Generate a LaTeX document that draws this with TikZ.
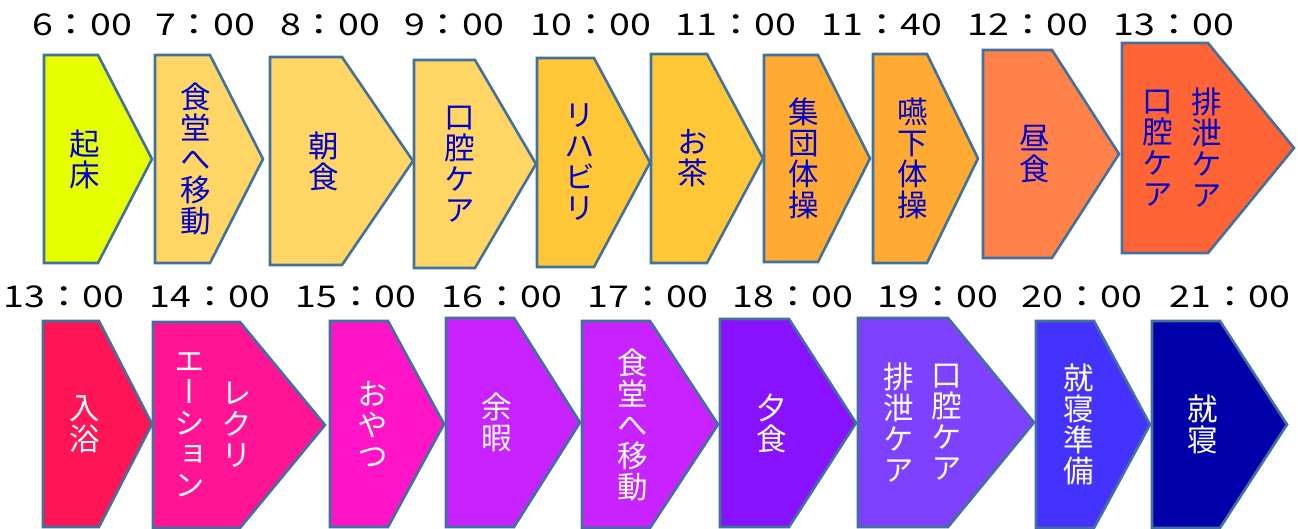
\documentclass[tikz,border=0pt]{standalone}
\usepackage{fontspec}
\setmainfont{Noto Sans CJK JP}
\newfontfamily\tatefont[RawFeature=+vert]{Noto Sans CJK JP}
\newfontfamily\timefont[FakeStretch=1.25]{Noto Sans CJK JP}
\definecolor{edgeblue}{RGB}{65,113,156}
\definecolor{inkblue}{RGB}{0,0,204}
\definecolor{lime}{RGB}{230,255,0}
\definecolor{cream}{RGB}{255,213,102}
\definecolor{amber}{RGB}{255,198,55}
\definecolor{tangerine}{RGB}{255,170,50}
\definecolor{salmon}{RGB}{255,130,75}
\definecolor{coral}{RGB}{255,100,55}
\definecolor{rose}{RGB}{255,20,85}
\definecolor{deeppink}{RGB}{255,20,150}
\definecolor{magenta2}{RGB}{255,20,200}
\definecolor{orchid}{RGB}{200,35,255}
\definecolor{violet2}{RGB}{136,17,255}
\definecolor{lavender}{RGB}{125,65,255}
\definecolor{indigo2}{RGB}{68,51,255}
\definecolor{navy2}{RGB}{0,0,170}
\tikzset{
  box/.style={draw=edgeblue, line width=2.6pt, line join=miter},
  lbl/.style={font=\tatefont\fontsize{30.5}{31}\selectfont, align=center, inner sep=0pt},
  uplbl/.style={lbl, text=inkblue},
  lowlbl/.style={lbl, text=white},
  clock/.style={font=\timefont\fontsize{30}{30}\selectfont, inner sep=0pt, anchor=base}
}
% pentagon arrow: name, left, top, shoulder, tip, bottom, fill
\newcommand{\pentbox}[7]{%
  \draw[box, fill=#7] (#2,#3) -- (#4,#3) -- (#5,{(#3+#6)/2}) -- (#4,#6) -- (#2,#6) -- cycle;
  \coordinate (#1) at ({#2/2+#4/4+#5/4},{(#3+#6)/2});}

\begin{document}
\begin{tikzpicture}[x=1pt, y=-1pt]
  \useasboundingbox (0,0) rectangle (1298,529);

  % morning row
  \pentbox{wake}{44}{55}{98}{152}{263}{lime}
  \pentbox{move}{155}{55}{210}{263}{263}{cream}
  \pentbox{bfast}{270}{57}{342}{413}{265}{cream}
  \pentbox{oral}{414}{60}{475}{536}{268}{cream}
  \pentbox{rehab}{537}{58}{594}{650}{267}{amber}
  \pentbox{tea}{651}{54}{707}{763}{263}{amber}
  \pentbox{gym}{764}{55}{818}{870}{262}{tangerine}
  \pentbox{swallow}{873}{54}{927}{978}{263}{tangerine}
  \pentbox{lunch}{983}{50}{1052}{1119}{258}{salmon}
  \pentbox{care}{1122}{43}{1208}{1294}{253}{coral}

  \node[uplbl] (t-wake) at (wake) {起\\床};
  \node[uplbl] (t-move) at (move) {食\\堂\\へ\\移\\動};
  \node[uplbl] (t-bfast) at (bfast) {朝\\食};
  \node[uplbl] (t-oral) at (oral) {口\\腔\\ケ\\ア};
  \node[uplbl] (t-rehab) at (rehab) {リ\\ハ\\ビ\\リ};
  \node[uplbl] (t-tea) at (tea) {お\\茶};
  \node[uplbl] (t-gym) at (gym) {集\\団\\体\\操};
  \node[uplbl] (t-swallow) at (swallow) {嚥\\下\\体\\操};
  \node[uplbl] (t-lunch) at (lunch) {昼\\食};
  \node[uplbl, xshift=-29pt] (t-care-a) at (care) {口\\腔\\ケ\\ア};
  \node[uplbl, xshift=20pt] (t-care-b) at (care) {排\\泄\\ケ\\ア};

  \node[clock] (h6) at (82,36) {6：00};
  \node[clock] (h7) at (205,36) {7：00};
  \node[clock] (h8) at (330,36) {8：00};
  \node[clock] (h9) at (454,36) {9：00};
  \node[clock] (h10) at (591,36) {10：00};
  \node[clock] (h11) at (736,36) {11：00};
  \node[clock] (h1140) at (882,36) {11：40};
  \node[clock] (h12) at (1028,36) {12：00};
  \node[clock] (h13) at (1174,36) {13：00};

  % afternoon row
  \pentbox{bath}{43}{321}{99}{152}{527}{rose}
  \pentbox{recr}{153}{322}{240}{325}{528}{deeppink}
  \pentbox{snack}{330}{321}{388}{444}{527}{magenta2}
  \pentbox{free}{446}{318}{514}{580}{527}{orchid}
  \pentbox{moveb}{582}{321}{650}{718}{528}{orchid}
  \pentbox{dinner}{720}{319}{789}{856}{527}{violet2}
  \pentbox{careb}{858}{318}{948}{1034}{527}{lavender}
  \pentbox{prep}{1036}{321}{1094}{1150}{528}{indigo2}
  \pentbox{sleep}{1152}{321}{1220}{1287}{528}{navy2}

  \node[lowlbl] (t-bath) at (bath) {入\\浴};
  \node[lowlbl, xshift=-28pt] (t-recr-a) at (recr) {エ\\ー\\シ\\ョ\\ン};
  \node[lowlbl, xshift=19pt] (t-recr-b) at (recr) {レ\\ク\\リ};
  \node[lowlbl] (t-snack) at (snack) {お\\や\\つ};
  \node[lowlbl] (t-free) at (free) {余\\暇};
  \node[lowlbl] (t-moveb) at (moveb) {食\\堂\\へ\\移\\動};
  \node[lowlbl] (t-dinner) at (dinner) {夕\\食};
  \node[lowlbl, xshift=-26pt] (t-careb-a) at (careb) {排\\泄\\ケ\\ア};
  \node[lowlbl, xshift=22pt] (t-careb-b) at (careb) {口\\腔\\ケ\\ア};
  \node[lowlbl] (t-prep) at (prep) {就\\寝\\準\\備};
  \node[lowlbl] (t-sleep) at (sleep) {就\\寝};

  \node[clock] (k13) at (64,307) {13：00};
  \node[clock] (k14) at (210,307) {14：00};
  \node[clock] (k15) at (356,307) {15：00};
  \node[clock] (k16) at (502,307) {16：00};
  \node[clock] (k17) at (648,307) {17：00};
  \node[clock] (k18) at (793,307) {18：00};
  \node[clock] (k19) at (938,307) {19：00};
  \node[clock] (k20) at (1082,307) {20：00};
  \node[clock] (k21) at (1230,307) {21：00};
\end{tikzpicture}
\end{document}
